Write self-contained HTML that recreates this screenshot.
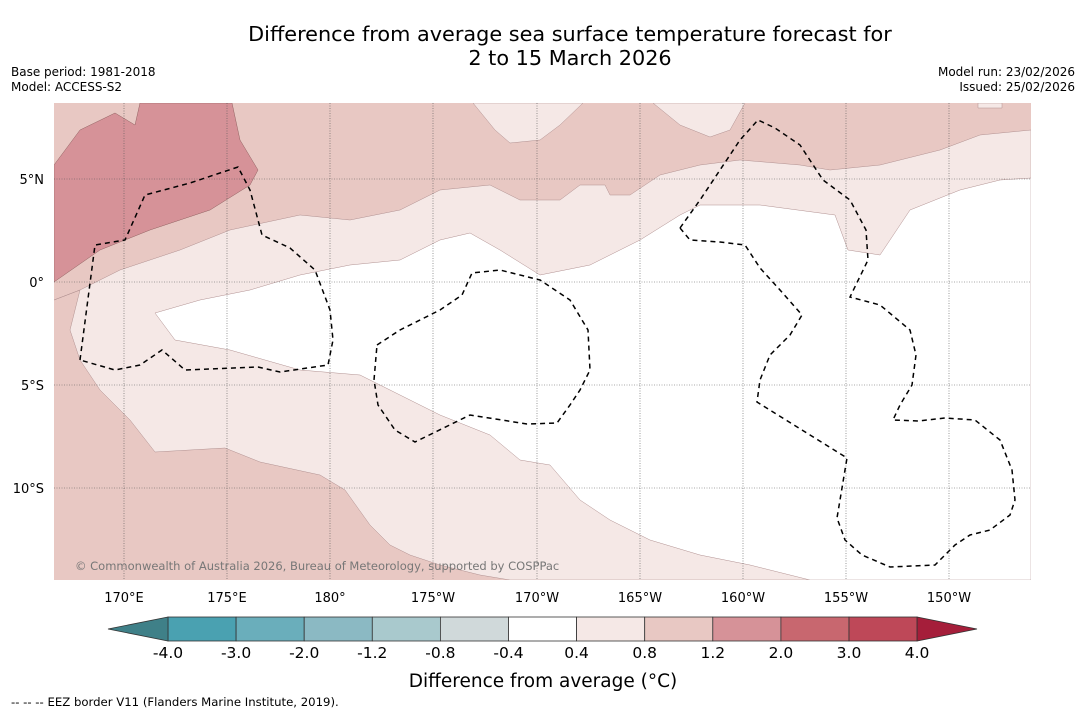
<!DOCTYPE html>
<html><head><meta charset="utf-8"><style>
body{margin:0;width:1085px;height:713px;background:#fff;font-family:"DejaVu Sans","Liberation Sans",sans-serif;overflow:hidden;position:relative}
.t{position:absolute;white-space:nowrap}
</style></head><body>
<div class="t" style="left:0;width:1140px;text-align:center;top:22px;font-size:20.8px;line-height:24px">Difference from average sea surface temperature forecast for<br>2 to 15 March 2026</div>
<div class="t" style="left:11px;top:65px;font-size:12px;line-height:15px">Base period: 1981-2018<br>Model: ACCESS-S2</div>
<div class="t" style="right:10px;top:65px;font-size:12px;line-height:15px;text-align:right">Model run: 23/02/2026<br>Issued: 25/02/2026</div>
<svg width="1085" height="713" style="position:absolute;left:0;top:0">
<defs><clipPath id="mc"><rect x="54" y="103" width="977" height="477"/></clipPath></defs>
<g clip-path="url(#mc)">
<rect x="54" y="103" width="977" height="477" fill="#e8c8c3"/>
<path fill="#f5e8e6" stroke="#b09090" stroke-width="0.5" d="M54,300 L80,290 L120,270 L180,250 L230,230 L300,215 L350,220 L400,210 L440,190 L490,185 L520,200 L560,200 L580,185 L605,185 L610,195 L630,195 L660,175 L700,165 L740,160 L800,165 L830,170 L880,165 L940,150 L980,135 L1031,130 L1031,580 L510,580 L480,575 L440,565 L410,555 L390,545 L370,525 L345,490 L320,475 L260,462 L225,448 L155,452 L130,420 L100,390 L80,360 L70,330 L80,290 Z"/>
<path fill="#f5e8e6" stroke="#b09090" stroke-width="0.5" d="M473,103 L495,130 L510,143 L540,140 L560,125 L583,103 Z M653,103 L680,125 L710,137 L730,130 L745,103 Z M978,103 L978,108 L1002,108 L1002,103 Z"/>
<path fill="#fff" stroke="#b09090" stroke-width="0.5" d="M155,313 L200,300 L250,290 L300,275 L350,265 L400,260 L440,240 L470,233 L500,250 L540,275 L590,265 L640,240 L680,215 L700,205 L760,205 L835,215 L848,250 L880,255 L910,210 L960,190 L1000,180 L1031,178 L1031,580 L810,580 L750,565 L700,555 L650,540 L610,520 L580,500 L550,465 L520,460 L490,435 L440,415 L400,395 L360,375 L300,370 L230,350 L175,340 Z"/>
<path fill="#d69298" stroke="#906060" stroke-width="0.5" d="M54,165 L80,130 L115,113 L135,125 L140,103 L232,103 L240,140 L258,170 L250,185 L210,210 L150,230 L100,250 L54,282 Z"/>
<g stroke="#555" stroke-width="0.6" stroke-dasharray="1,1.5">
<line x1="124" y1="103" x2="124" y2="580"/><line x1="227" y1="103" x2="227" y2="580"/><line x1="330" y1="103" x2="330" y2="580"/><line x1="433" y1="103" x2="433" y2="580"/><line x1="537" y1="103" x2="537" y2="580"/><line x1="640" y1="103" x2="640" y2="580"/><line x1="743" y1="103" x2="743" y2="580"/><line x1="846" y1="103" x2="846" y2="580"/><line x1="949" y1="103" x2="949" y2="580"/>
<line x1="54" y1="179" x2="1031" y2="179"/><line x1="54" y1="282" x2="1031" y2="282"/><line x1="54" y1="385" x2="1031" y2="385"/><line x1="54" y1="488" x2="1031" y2="488"/>
</g>
<g fill="none" stroke="#000" stroke-width="1.5" stroke-dasharray="5,4">
<polyline points="80,360 95,245 125,240 145,195 190,183 238,167 250,190 262,235 290,248 315,270 330,310 333,340 328,365 280,372 258,367 185,370 162,350 140,365 115,370 80,360"/>
<polyline points="377,345 400,330 440,310 462,295 472,273 500,270 540,280 570,300 588,330 590,370 580,390 570,405 557,423 527,424 470,415 415,442 395,430 378,405 374,380 377,345"/>
<polyline points="680,228 700,200 720,170 740,140 758,120 775,128 800,145 823,180 850,200 866,230 868,260 850,297 880,305 910,330 916,355 912,385 900,405 893,420 918,421 945,418 975,420 1000,440 1012,470 1015,500 1010,515 990,530 970,535 955,545 935,565 890,567 862,555 845,540 837,518 847,458 757,402 760,380 770,355 790,335 802,315 780,290 760,268 745,245 720,242 690,240 680,228"/>
</g>
<text x="75" y="570" font-size="11.5" fill="#777">© Commonwealth of Australia 2026, Bureau of Meteorology, supported by COSPPac</text>
</g>
<g font-size="13" text-anchor="middle">
<text x="124" y="602">170°E</text><text x="227" y="602">175°E</text><text x="330" y="602">180°</text><text x="433" y="602">175°W</text><text x="537" y="602">170°W</text><text x="640" y="602">165°W</text><text x="743" y="602">160°W</text><text x="846" y="602">155°W</text><text x="949" y="602">150°W</text>
</g>
<g font-size="13" text-anchor="end">
<text x="44" y="184">5°N</text><text x="44" y="287">0°</text><text x="44" y="390">5°S</text><text x="44" y="493">10°S</text>
</g>
<g id="cb"></g>
<text x="543" y="687" font-size="18.5" text-anchor="middle">Difference from average (°C)</text>
<text x="11" y="706" font-size="11.7">-- -- -- EEZ border V11 (Flanders Marine Institute, 2019).</text>
</svg>
<script>
const cbLabels=["-4.0","-3.0","-2.0","-1.2","-0.8","-0.4","0.4","0.8","1.2","2.0","3.0","4.0"];
const cbColors=["#4aa1b1","#6aaebb","#8bb9c3","#a9c9cd","#d0d9da","#ffffff","#f5e8e6","#e8c8c3","#d69298","#c8676f","#be4858"];
const g=document.getElementById('cb');const ns='http://www.w3.org/2000/svg';
const x0=168,w=68.1,y0=617,h=24;
function mk(t,a){const e=document.createElementNS(ns,t);for(const k in a)e.setAttribute(k,a[k]);g.appendChild(e);return e;}
cbColors.forEach((c,i)=>{const r=mk('rect',{x:x0+i*w,y:y0,width:w,height:h,fill:c,stroke:'#333','stroke-width':0.8});

});
const l=mk('polygon',{points:`${x0},${y0} 108,${y0+h/2} ${x0},${y0+h}`,fill:'#3f8088',stroke:'#333','stroke-width':0.8});


const xe=x0+cbColors.length*w;
const r2=mk('polygon',{points:`${xe},${y0} 977,${y0+h/2} ${xe},${y0+h}`,fill:'#a51e3a',stroke:'#333','stroke-width':0.8});


cbLabels.forEach((s,i)=>{const t=mk('text',{x:x0+i*w,y:658,'font-size':15.5,'text-anchor':'middle'});t.textContent=s;

});
</script>
</body></html>
